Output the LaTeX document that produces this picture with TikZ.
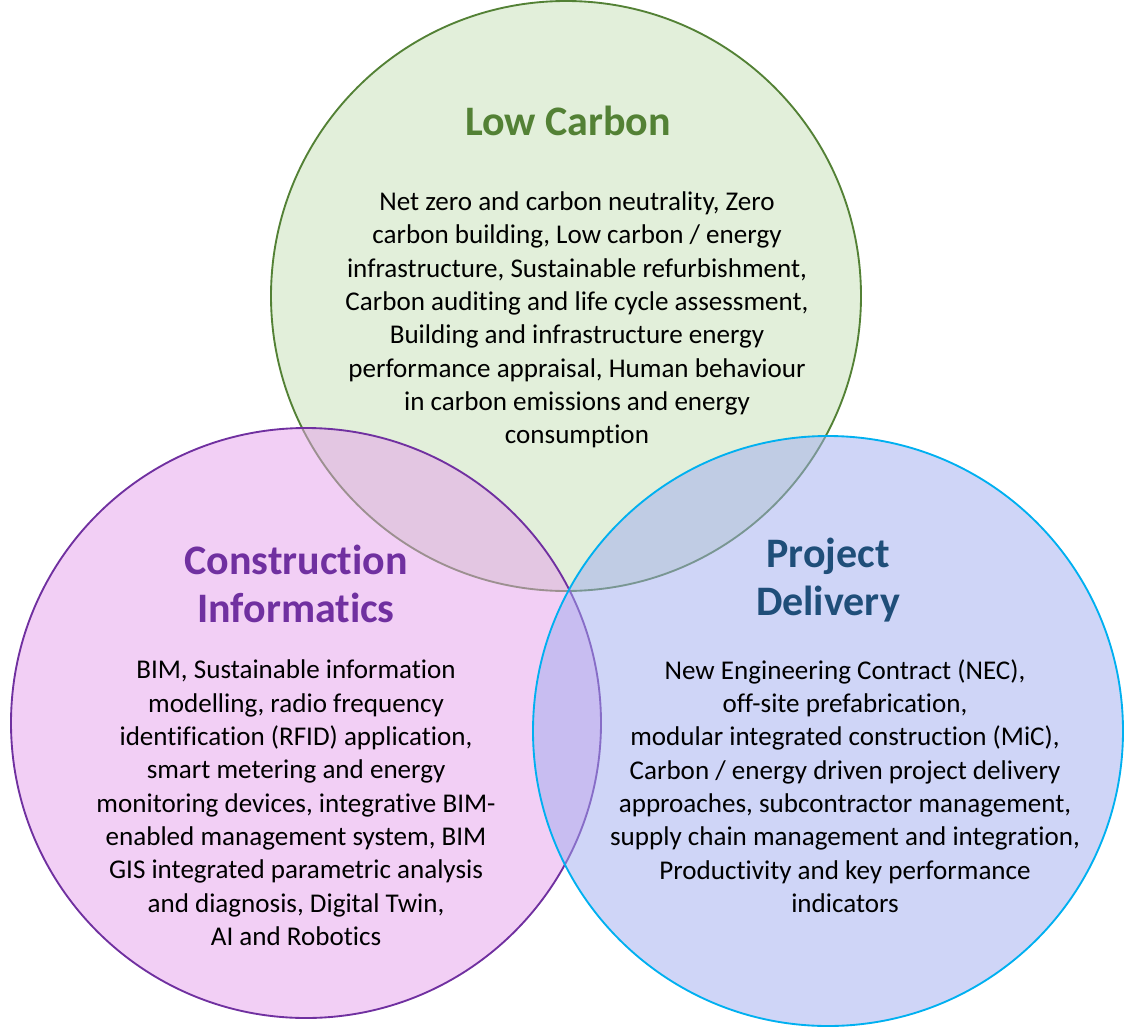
\documentclass[tikz,border=0pt]{standalone}
\usepackage{fontspec}
\setmainfont[Ligatures=NoCommon]{Carlito}
\usetikzlibrary{positioning}
\definecolor{cgreen}{HTML}{E2EFDA}
\definecolor{cgreenline}{HTML}{538135}
\definecolor{cpink}{HTML}{E59FEB}
\definecolor{cpinkline}{HTML}{7030A0}
\definecolor{cblue}{HTML}{9FABEF}
\definecolor{cblueline}{HTML}{00B0F0}
\definecolor{cnavy}{HTML}{1F4E79}

\begin{document}
\begin{tikzpicture}[x=0.75pt,y=-0.75pt,
    ring/.style={circle,minimum size=442.5pt,inner sep=0pt,line width=1.4pt},
    title/.style={align=center,font=\fontsize{31.5}{36}\selectfont\bfseries},
    body/.style={align=center,font=\fontsize{20.3}{25}\selectfont}]
    \useasboundingbox (0,0) rectangle (1125,1028);
    % the three circles
    \node[ring,draw=cgreenline,fill=cgreen] (lc) at (566,296) {};
    \node[ring,draw=cpinkline,fill=cpink,fill opacity=0.5] (ci) at (306,723) {};
    \node[ring,draw=cblueline,fill=cblue,fill opacity=0.5] (pd) at (828,731) {};
    % low carbon
    \node[title,text=cgreenline] (lctitle) at (568,121) {Low Carbon};
    \node[body] (lctext) at (577,320) {Net zero and carbon neutrality, Zero\\
      carbon building, Low carbon / energy\\
      infrastructure, Sustainable refurbishment,\\
      Carbon auditing and life cycle assessment,\\
      Building and infrastructure energy\\
      performance appraisal, Human behaviour\\
      in carbon emissions and energy\\
      consumption};
    % construction informatics
    \node[title,text=cpinkline] (cititle) at (296,584) {Construction\\Informatics};
    \node[body] (citext) at (296,803) {BIM, Sustainable information\\
      modelling, radio frequency\\
      identification (RFID) application,\\
      smart metering and energy\\
      monitoring devices, integrative BIM-\\
      enabled management system, BIM\\
      GIS integrated parametric analysis\\
      and diagnosis, Digital Twin,\\
      AI and Robotics};
    % project delivery
    \node[title,text=cnavy] (pdtitle) at (828,580) {Project\\Delivery};
    \node[body] (pdtext) at (845,786) {New Engineering Contract (NEC),\\
      off-site prefabrication,\\
      modular integrated construction (MiC),\\
      Carbon / energy driven project delivery\\
      approaches, subcontractor management,\\
      supply chain management and integration,\\
      Productivity and key performance\\
      indicators};
\end{tikzpicture}
\end{document}
